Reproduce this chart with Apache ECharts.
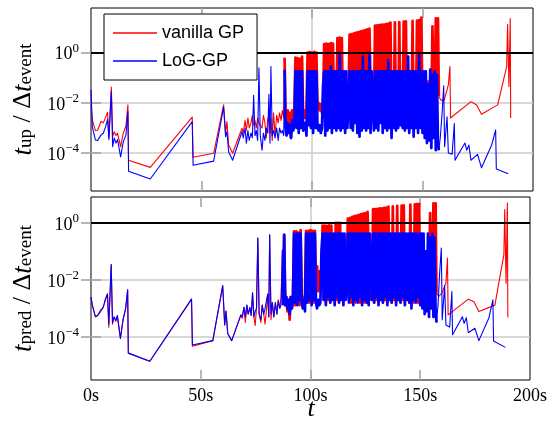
<!DOCTYPE html>
<html><head><meta charset="utf-8">
<script src="https://cdn.jsdelivr.net/npm/echarts@6/dist/echarts.min.js"></script>
<style>html,body{margin:0;padding:0;background:#fff}#c{width:550px;height:426px}</style>
</head><body><div id="c"></div><script>
// ---- time stamps (s) ----
const tSparse = [0,0.6,2,3,4.5,5.6,6.6,7.5,8.1,9.2,
9.8,10.5,11.3,12,13.4,14.6,15.8,16.7,17,26.8,
45.8,46.2,55.5,60,60.9,61.5,62.3,64.1,68.3,68.9,
69.7,70.3,71,71.6,72.4,73,73.6,74.2,74.8,75.4,
76,76.6,77.4,78,78.7,79.3,80,80.5,81,81.4,
82,82.6,83.3,84,84.7,85.3,86,86.6,87.2,87.6];
const tDense = [88,88.5,89,89.5,90,90.5,91,91.5,92,92.5,
93,93.5,94,94.5,95,95.5,96,96.5,97,97.5,
98,98.5,99,99.5,100,100.5,101,101.5,102,102.5,
103,103.5,104,104.5,105,105.5,106,106.5,107,107.5,
108,108.5,109,109.5,110,110.5,111,111.5,112,112.5,
113,113.5,114,114.5,115,115.5,116,116.5,117,117.5,
118,118.5,119,119.5,120,120.5,121,121.5,122,122.5,
123,123.5,124,124.5,125,125.5,126,126.5,127,127.5,
128,128.5,129,129.5,130,130.5,131,131.5,132,132.5,
133,133.5,134,134.5,135,135.5,136,136.5,137,137.5,
138,138.5,139,139.5,140,140.5,141,141.5,142,142.5,
143,143.5,144,144.5,145,145.5,146,146.5,147,147.5,
148,148.5,149,149.5,150,150.5,151,151.5,152,152.5,
153,153.5,154,154.5,155,155.5,156,156.5,157];
const tTailVanilla = [157.4,158.4,159.9,161.7,162.4,162.7,171.9,174.5,176.7,184.0,188.1,188.5,189.1,189.7,189.9];
const tTailLoG = [157.4,158.1,158.8,159.6,160.0,161.1,161.7,163.4,164.4,164.7,169.2,170.0,171.0,171.9,174.9,176.7,181.3,183.1,183.4,188.8];

// ---- t_up / dt_event, vanilla GP ----
const upVanillaSparse = [0.01,2.1e-3,7.9e-4,8.1e-4,1.8e-3,1.6e-3,2.7e-3,4.2e-3,4.1e-4,0.043,
4.5e-4,7.1e-4,5e-4,6.3e-4,1.8e-4,6.3e-4,1.2e-3,8.3e-3,5.2e-5,2.7e-5,
2.7e-3,6.8e-5,9.8e-5,8.3e-3,6.3e-4,1.8e-3,2.1e-4,9.8e-5,9.8e-4,6.3e-4,
2e-3,7.9e-4,2.5e-3,1e-3,1.6e-3,3.2e-3,1.3e-3,2e-3,1e-3,2.5e-3,
1.6e-3,1.3e-3,1e-3,3.2e-3,1.6e-3,4e-4,2.5e-3,2e-3,6.3e-4,2.5e-3,
3.2e-4,4e-3,5e-4,3.2e-3,1.6e-3,4e-3,2e-3,5e-3,2.5e-3,0.63];
const upVanillaDense = [3.2e-3,1.3e-3,5e-3,2e-3,4e-3,4e-4,5e-3,2.5e-3,4e-3,0.63,
1.6e-3,0.6,2e-3,0.56,1.3e-3,0.7,2.5e-3,5e-3,2.5e-3,5e-3,
1,2.5e-3,1.05,2e-3,1,2.5e-3,1.07,2e-3,1,6.3e-3,
0.01,5e-3,9e-3,4e-3,8e-3,2.2,2.5e-3,2.3,2e-3,2.2,
2.5e-3,2.4,2e-3,2.3,2.5e-3,0.1,3.2e-3,3.8,2.5e-3,4,
2e-3,3.8,2.5e-3,0.1,2.5e-3,0.063,0.016,0.0126,5.2,2.5e-3,
5.5,2e-3,5.9,2.5e-3,6.3,2e-3,6.6,2.5e-3,7.1,2e-3,
7.4,2.5e-3,7.9,2e-3,8.5,2.5e-3,9.1,0.08,2.5e-3,0.1,
2.5e-3,12,2e-3,12.3,2.5e-3,12.6,2e-3,13,2.5e-3,13.2,
2e-3,13.8,2.5e-3,14.5,2e-3,15.8,2.5e-3,0.1,2e-3,16.2,
2.5e-3,0.08,2e-3,16.6,2.5e-3,0.1,2e-3,17.4,2.5e-3,17.8,
2e-3,0.1,2.5e-3,0.08,2e-3,18.6,2.5e-3,0.1,2e-3,19,
2.5e-3,20,2e-3,25,3.2e-3,0.063,2.5e-3,0.05,4e-3,0.07,
3.2e-3,0.04,5e-3,11.2,0.032,0.01,23,0.025,23];
const upVanillaTail = [0.018,0.0126,0.0135,0.052,0.28,2.5e-3,0.0112,8.3e-3,3.5e-3,8.3e-3,0.28,13.2,0.045,23,2.5e-3];

// ---- t_up / dt_event, LoG-GP ----
const upLoGSparse = [0.033,1.1e-3,3.3e-4,3.2e-4,5.2e-4,6.3e-4,1.1e-3,2.2e-3,3.5e-4,0.028,
1.8e-4,4e-4,2.5e-4,3.5e-4,7.1e-5,2.8e-4,5.2e-4,4.5e-3,1.9e-5,9.3e-6,
1.8e-3,3.3e-5,4.8e-5,6.8e-3,4.5e-4,7.1e-4,1.1e-4,5.2e-5,7.1e-4,4e-4,
1e-3,2.5e-4,7.9e-4,3.2e-4,6.3e-4,4e-4,0.02,5e-4,7.9e-4,3.2e-4,
0.25,5e-4,1.3e-4,6.3e-4,3.2e-4,1e-3,6.3e-4,0.022,2.5e-4,0.28,
5e-4,7.9e-4,4e-4,1e-3,3.2e-4,1e-3,6.3e-4,7.9e-4,5e-4,0.21];
const upLoGDense = [1e-3,5e-4,1.6e-3,6.3e-4,1.3e-3,4e-4,2e-3,7.9e-4,1.3e-3,0.18,
1e-3,0.18,6.3e-4,0.18,1e-3,0.18,7.9e-4,7.9e-4,1.6e-3,5e-4,
0.18,1.3e-3,0.18,1e-3,0.18,6.3e-4,0.18,1e-3,0.18,1e-3,
7.9e-4,1.3e-3,6.3e-4,1e-3,0.05,0.18,5e-4,0.18,7.9e-4,0.18,
1e-3,0.28,6.3e-4,0.18,1e-3,0.18,7.9e-4,0.18,1e-3,0.9,
7.9e-4,0.18,1e-3,0.18,6.3e-4,0.18,1e-3,6.3e-3,0.18,1e-3,
0.18,7.9e-4,0.18,1.6e-3,0.18,6.3e-4,0.18,4.5e-4,0.18,7.9e-4,
0.7,1e-3,0.18,7.9e-4,0.18,1e-3,0.8,6.3e-4,0.18,0.18,
7.9e-4,0.18,1e-3,0.18,7.9e-4,0.18,1.6e-3,0.18,6.3e-4,0.18,
1e-3,0.18,7.9e-4,0.5,1e-3,0.18,4e-4,0.18,1e-3,0.18,
7.9e-4,0.18,1e-3,0.18,1.3e-3,0.18,1e-3,0.18,7.9e-4,0.18,
1e-3,0.7,6.3e-4,0.18,1e-3,0.18,4.5e-4,0.18,1e-3,0.18,
6.3e-4,0.83,1e-3,0.18,6.3e-4,0.18,4e-4,0.18,2.5e-4,0.052,
3.2e-4,0.21,1.6e-4,0.13,4e-4,0.18,1.3e-4,0.13,2.5e-4];
const upLoGTail = [1.3e-4,4.7e-4,3.3e-3,0.048,1.8e-4,2.8e-3,1e-4,9.1e-5,1.5e-3,5.2e-5,2.5e-4,1.3e-4,2.1e-4,5.2e-5,8.9e-5,2.6e-5,2.1e-4,8.3e-4,2.3e-5,1.5e-5];

// ---- t_pred / dt_event, vanilla GP ----
const predVanillaSparse = [2.5e-3,1.3e-3,5.1e-4,5.6e-4,7.9e-4,1.1e-3,2e-3,3.2e-3,2.2e-4,0.034,
2.8e-4,5e-4,3.5e-4,5.6e-4,8.9e-5,4e-4,1e-3,4.5e-3,2.7e-5,1.4e-5,
2.1e-3,4.7e-5,7.4e-5,6.3e-3,2.6e-4,8.1e-4,1.3e-4,7.4e-5,5.9e-4,4.5e-4,
1.1e-3,3.2e-4,1.3e-3,6.3e-4,1e-3,5.6e-4,3.5e-3,5e-4,2.5e-4,1e-3,
0.29,6.3e-4,3.2e-4,1.3e-3,6.3e-4,2.8e-4,1e-3,3.2e-3,5e-4,0.38,
4e-4,1.6e-3,5e-4,1.6e-3,6.3e-4,2e-3,1e-3,2.5e-3,0.11,1.3e-3];
const predVanillaDense = [0.38,1.3e-3,2.5e-3,7.9e-4,2e-3,4e-4,2.5e-3,1e-3,2e-3,0.5,
1.3e-3,0.5,1.6e-3,0.45,1.3e-3,0.55,2e-3,2.5e-3,1.3e-3,3.2e-3,
0.52,2e-3,0.52,1.6e-3,0.55,2e-3,0.52,1.6e-3,0.52,4e-3,
0.03,4e-3,0.02,5e-3,0.01,0.8,2e-3,0.8,1.6e-3,0.78,
2e-3,0.82,1.6e-3,0.8,2e-3,0.1,2.5e-3,1,2e-3,1,
1.6e-3,1,2e-3,0.1,2e-3,0.05,6.3e-3,5e-3,1.4,2e-3,
1.5,1.6e-3,1.6,2e-3,1.7,1.6e-3,1.8,2e-3,1.9,1.6e-3,
2,2e-3,2.1,1.6e-3,2.2,2e-3,2.4,0.08,2e-3,0.1,
2e-3,3,1.6e-3,3,2e-3,3.1,1.6e-3,3.2,2e-3,3.2,
1.6e-3,3.3,2e-3,3.4,1.6e-3,3.7,2e-3,0.1,1.6e-3,3.8,
2e-3,0.08,1.6e-3,3.9,2e-3,0.1,1.6e-3,4,2e-3,4.1,
1.6e-3,0.1,2e-3,0.08,1.6e-3,4.3,2e-3,0.1,1.6e-3,4.4,
2e-3,4.5,1.6e-3,4.6,2e-3,0.06,2.5e-3,0.05,3.2e-3,0.07,
2e-3,0.04,3.2e-3,2.2,0.02,5e-3,4.8,0.01,4.8];
const predVanillaTail = [3.5e-3,2.6e-3,3.5e-3,7.9e-3,0.058,5.9e-4,2.1e-3,1.7e-3,7.8e-4,1.3e-3,0.076,2.9,7.6e-3,4.9,4.8e-4];

// ---- t_pred / dt_event, LoG-GP ----
const predLoGSparse = [2.5e-3,1.3e-3,5.1e-4,5.6e-4,8.9e-4,1.1e-3,2.2e-3,3.2e-3,2.8e-4,0.034,
3.2e-4,5e-4,3.8e-4,5.6e-4,8.9e-5,4e-4,1e-3,4.5e-3,2.7e-5,1.4e-5,
2.1e-3,5.2e-5,7.4e-5,6.3e-3,2.6e-4,8.1e-4,1.3e-4,7.4e-5,5.9e-4,5e-4,
1.1e-3,5e-4,1.3e-3,6.3e-4,1.1e-3,5.6e-4,3.5e-3,5e-4,7.9e-4,1e-3,
0.29,6.3e-4,4e-4,1.3e-3,6.3e-4,1e-3,1e-3,3.2e-3,5e-4,0.38,
6.3e-4,1.6e-3,5e-4,1.6e-3,6.3e-4,1.8e-3,1e-3,1.3e-3,0.11,1.3e-3];
const predLoGDense = [0.38,1.3e-3,2.5e-3,1e-3,2e-3,6.3e-4,2.5e-3,1e-3,2e-3,0.42,
1.6e-3,0.42,1.3e-3,0.42,2e-3,0.42,1.6e-3,1e-3,2e-3,7.9e-4,
0.42,1.6e-3,0.42,2e-3,0.42,1.3e-3,0.42,2e-3,0.42,1.6e-3,
1e-3,2e-3,1.3e-3,1.6e-3,0.1,0.42,2e-3,0.42,1.3e-3,0.42,
2.5e-3,0.42,1.6e-3,0.42,2e-3,0.42,1.3e-3,0.42,2.5e-3,0.42,
1.6e-3,0.42,2e-3,0.42,1.3e-3,0.42,2e-3,6.3e-3,0.42,1.6e-3,
0.42,2.5e-3,0.42,1.3e-3,0.42,2e-3,0.42,1.6e-3,0.42,2.5e-3,
0.42,1.3e-3,0.42,2e-3,0.42,1.6e-3,0.42,1.3e-3,0.42,0.42,
2e-3,0.42,1.6e-3,0.42,2.5e-3,0.42,1.3e-3,0.42,2e-3,0.42,
1.6e-3,0.42,2.5e-3,0.42,1.3e-3,0.42,2e-3,0.42,1.6e-3,0.42,
2.5e-3,0.42,1.3e-3,0.42,2e-3,0.42,1.6e-3,0.42,2.5e-3,0.42,
1.3e-3,0.42,2e-3,0.42,1.6e-3,0.42,1e-3,0.42,2e-3,0.42,
1.6e-3,0.42,2.5e-3,0.42,1.3e-3,0.42,1e-3,0.42,6.3e-4,0.1,
7.9e-4,0.42,5e-4,0.3,1e-3,0.42,5e-4,0.3,7.9e-4];
const predLoGTail = [3.2e-4,1.3e-3,0.016,0.13,4e-4,6.3e-3,2.6e-4,2.2e-4,3.9e-3,1.2e-4,5.1e-4,3e-4,4.7e-4,1.4e-4,2e-4,7.4e-5,4.7e-4,2e-3,7.2e-5,4.3e-5];

// ---- axis ticks / labels ----
const xTickValues = [50, 100, 150];
const yTickValues = [1e-4, 1e-2, 1];
const eventThreshold = 1;

// ---- build series data ----
function pairs(ts, vs) { return ts.map((t, i) => [t, vs[i]]); }
function sparseAndTail(sp, tailT, tail) {
  return pairs(tSparse, sp).concat([[tDense[0], null]]).concat(pairs(tailT, tail));
}
function denseBurst(sp, de, tailT, tail) {
  return [[tSparse[tSparse.length - 1], sp[sp.length - 1]]]
    .concat(pairs(tDense, de))
    .concat([[tailT[0], tail[0]]]);
}

const RED = '#ff0000', BLUE = '#0000ff';
const gridCol = '#cbcbcb', tickCol = '#a0a0a0';

function supLabel(v) {
  const e = Math.round(Math.log10(v));
  if (e % 2 !== 0) return '';
  const s = e < 0 ? '\u2212' + (-e) : String(e);
  return '{h| }{b|10}{s|' + s + '}';
}
const yRich = {
  h: { fontSize: 1, lineHeight: 22 },
  b: { fontFamily: 'Liberation Serif', fontSize: 18, lineHeight: 18, verticalAlign: 'bottom', color: '#000' },
  s: { fontFamily: 'Liberation Serif', fontSize: 13, lineHeight: 14, verticalAlign: 'top', color: '#000' }
};

function yMain(gi, min, max) {
  return {
    type: 'log', logBase: 10, gridIndex: gi, min: min, max: max, position: 'left',
    axisLine: { show: false },
    axisTick: { show: true, inside: true, length: 10, customValues: yTickValues, lineStyle: { color: tickCol, width: 1.5 } },
    axisLabel: { show: true, customValues: yTickValues, margin: 12, formatter: supLabel, rich: yRich },
    splitLine: { show: true, lineStyle: { color: gridCol, width: 1.5 } },
    minorTick: { show: false }, minorSplitLine: { show: false }
  };
}
function ySide(gi, min, max) {
  return {
    type: 'log', logBase: 10, gridIndex: gi, min: min, max: max, position: 'right',
    axisLine: { show: false },
    axisTick: { show: true, inside: true, length: 10, customValues: yTickValues, lineStyle: { color: tickCol, width: 1.5 } },
    axisLabel: { show: false }, splitLine: { show: false }
  };
}
function xMain(gi, showLabels) {
  return {
    type: 'value', gridIndex: gi, min: 0, max: 200, interval: 50, position: 'bottom',
    axisLine: { show: false },
    axisTick: { show: true, inside: true, length: 10, customValues: xTickValues, lineStyle: { color: tickCol, width: 1.5 } },
    axisLabel: { show: showLabels, margin: 7, formatter: '{value}s', fontFamily: 'Liberation Serif', fontSize: 18, color: '#000' },
    splitLine: { show: true, showMinLine: false, showMaxLine: false, lineStyle: { color: gridCol, width: 1.5 } }
  };
}
function xSide(gi) {
  return {
    type: 'value', gridIndex: gi, min: 0, max: 200, interval: 50, position: 'top',
    axisLine: { show: false },
    axisTick: { show: true, inside: true, length: 10, customValues: xTickValues, lineStyle: { color: tickCol, width: 1.5 } },
    axisLabel: { show: false }, splitLine: { show: false }
  };
}
function dataLine(name, color, xi, yi, data, z, width) {
  return { name: name, type: 'line', xAxisIndex: xi, yAxisIndex: yi, data: data, symbol: 'none', showSymbol: false,
    connectNulls: false, lineStyle: { color: color, width: width, join: 'round' }, itemStyle: { color: color }, z: z, silent: true, clip: true };
}
function refLine(xi, yi) {
  return { type: 'line', xAxisIndex: xi, yAxisIndex: yi, data: [[0, eventThreshold]], symbol: 'none', z: 4,
    lineStyle: { opacity: 0 }, silent: true,
    markLine: { silent: true, symbol: ['none', 'none'], label: { show: false },
      lineStyle: { color: '#000', width: 2, type: 'solid' }, data: [{ yAxis: eventThreshold }] } };
}

const titleRich = {
  i: { fontFamily: 'Liberation Serif', fontStyle: 'italic', fontSize: 27, lineHeight: 26, verticalAlign: 'top', color: '#000' },
  n: { fontFamily: 'Liberation Serif', fontSize: 26, lineHeight: 26, verticalAlign: 'top', color: '#000' },
  sb: { fontFamily: 'Liberation Serif', fontSize: 19, lineHeight: 18, verticalAlign: 'bottom', color: '#000' }
};
function yTitle(sub) { return '{i|t}{sb|' + sub + '}{n| / \u0394}{i|t}{sb|event}'; }

const THIN = 1.1, THICK = 2.7;
const chart = echarts.init(document.getElementById('c'), null, { renderer: 'canvas' });
chart.setOption({
  animation: false,
  backgroundColor: '#fff',
  grid: [
    { left: 91, top: 8, width: 442, height: 183, show: true, borderColor: '#000', borderWidth: 1, backgroundColor: 'transparent' },
    { left: 91, top: 197, width: 442, height: 183, show: true, borderColor: '#000', borderWidth: 1, backgroundColor: 'transparent' }
  ],
  xAxis: [xMain(0, false), xSide(0), xMain(1, true), xSide(1)],
  yAxis: [yMain(0, 3.09e-6, 60), ySide(0, 3.09e-6, 60), yMain(1, 3.09e-6, 8.0), ySide(1, 3.09e-6, 8.0)],
  legend: {
    data: ['vanilla GP', 'LoG-GP'], orient: 'vertical', left: 104, top: 14,
    padding: [10, 13, 10, 9], itemWidth: 44, itemHeight: 1.5, itemGap: 10, icon: 'rect',
    backgroundColor: '#fff', borderColor: '#000', borderWidth: 1, borderRadius: 0,
    textStyle: { fontFamily: 'Liberation Sans', fontSize: 18, lineHeight: 18, color: '#000' },
    z: 10, selectedMode: false
  },
  series: [
    dataLine('vanilla GP', RED, 0, 0, sparseAndTail(upVanillaSparse, tTailVanilla, upVanillaTail), 2, THIN),
    dataLine('vanilla GP', RED, 0, 0, denseBurst(upVanillaSparse, upVanillaDense, tTailVanilla, upVanillaTail), 2, THICK),
    dataLine('LoG-GP', BLUE, 0, 0, sparseAndTail(upLoGSparse, tTailLoG, upLoGTail), 3, THIN),
    dataLine('LoG-GP', BLUE, 0, 0, denseBurst(upLoGSparse, upLoGDense, tTailLoG, upLoGTail), 3, THICK),
    dataLine('vanilla GP', RED, 2, 2, sparseAndTail(predVanillaSparse, tTailVanilla, predVanillaTail), 2, THIN),
    dataLine('vanilla GP', RED, 2, 2, denseBurst(predVanillaSparse, predVanillaDense, tTailVanilla, predVanillaTail), 2, THICK),
    dataLine('LoG-GP', BLUE, 2, 2, sparseAndTail(predLoGSparse, tTailLoG, predLoGTail), 3, THIN),
    dataLine('LoG-GP', BLUE, 2, 2, denseBurst(predLoGSparse, predLoGDense, tTailLoG, predLoGTail), 3, THICK),
    refLine(0, 0),
    refLine(2, 2)
  ],
  graphic: [
    { type: 'text', x: 23, y: 99.5, rotation: Math.PI / 2, z: 20,
      style: { text: yTitle('up'), rich: titleRich, align: 'center', verticalAlign: 'middle', textAlign: 'center', textVerticalAlign: 'middle' } },
    { type: 'text', x: 23, y: 288.5, rotation: Math.PI / 2, z: 20,
      style: { text: yTitle('pred'), rich: titleRich, align: 'center', verticalAlign: 'middle', textAlign: 'center', textVerticalAlign: 'middle' } },
    { type: 'text', x: 311, y: 409, z: 20,
      style: { text: 't', font: 'italic 26px "Liberation Serif"', fill: '#000', align: 'center', verticalAlign: 'middle', textAlign: 'center', textVerticalAlign: 'middle' } }
  ]
});
</script></body></html>
